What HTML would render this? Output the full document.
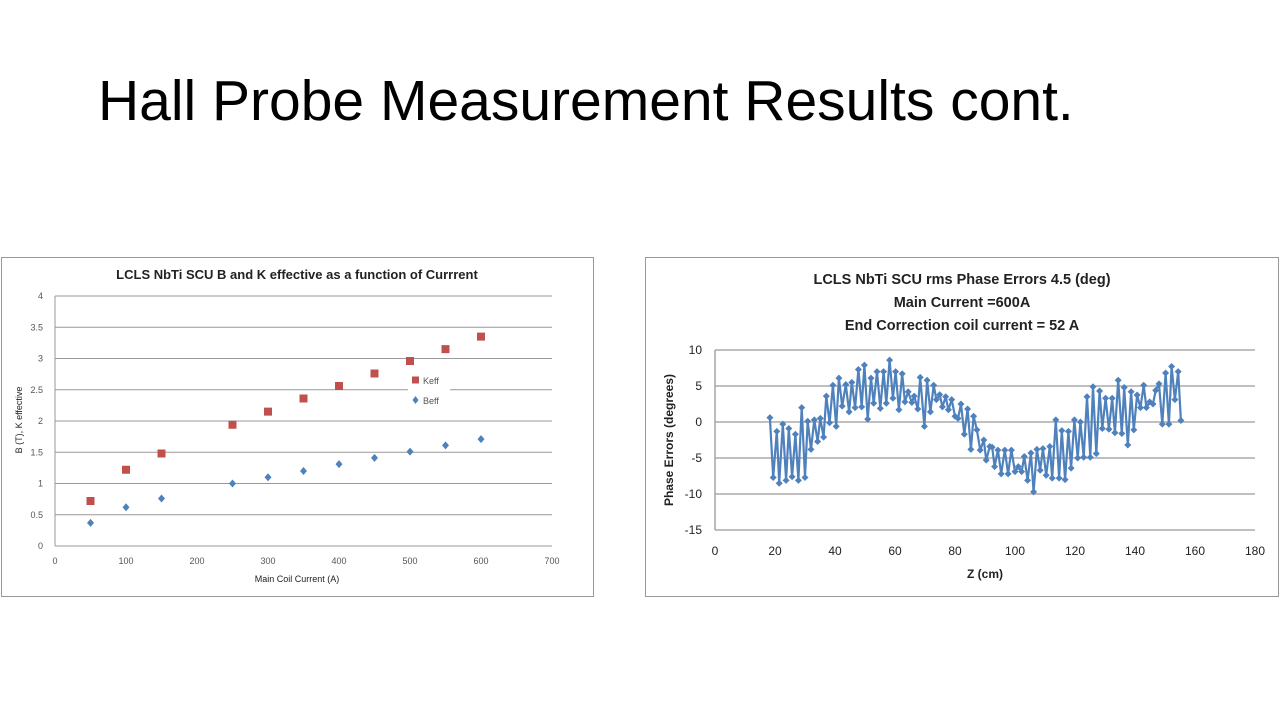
<!DOCTYPE html>
<html><head><meta charset="utf-8"><style>
body{margin:0;width:1280px;height:720px;background:#fff;overflow:hidden;font-family:"Liberation Sans",sans-serif;}
#title{position:absolute;left:98px;top:68px;font-size:57px;color:#000;white-space:nowrap;}
svg{position:absolute;left:0;top:0;}
</style></head><body>
<div id="title">Hall Probe Measurement Results cont.</div>
<svg id="svg" width="1280" height="720"></svg>
<script>
const currents=[50,100,150,250,300,350,400,450,500,550,600];
const keff=[0.72,1.22,1.48,1.94,2.15,2.36,2.56,2.76,2.96,3.15,3.35];
const beff=[0.37,0.62,0.76,1.0,1.1,1.2,1.31,1.41,1.51,1.61,1.71];
const leftXTicks=[0,100,200,300,400,500,600,700];
const leftYTicks=[0,0.5,1,1.5,2,2.5,3,3.5,4];
const zPos=[18.3,19.4,20.6,21.4,22.6,23.7,24.6,25.7,26.8,27.8,28.9,30,30.9,32,33.1,34.2,35.1,36.2,37.1,38.2,39.3,40.4,41.3,42.4,43.6,44.7,45.6,46.7,47.8,48.9,49.8,50.9,52,52.9,54,55.1,56.2,57.1,58.2,59.3,60.2,61.3,62.4,63.3,64.4,65.6,66.4,67.6,68.4,69.8,70.7,71.8,72.9,73.8,74.9,75.8,76.9,77.8,78.9,80,81,82,83.1,84.2,85.3,86.2,87.3,88.4,89.6,90.4,91.6,92.4,93.2,94.3,95.4,96.6,97.7,98.8,100,101.1,102.2,103.1,104.2,105.3,106.2,107.3,108.4,109.3,110.4,111.6,112.4,113.6,114.7,115.6,116.7,117.8,118.7,119.8,120.9,121.8,122.9,124,125.1,126,127.1,128.2,129.1,130.2,131.3,132.4,133.3,134.4,135.6,136.4,137.6,138.7,139.6,140.7,141.8,142.9,143.8,144.9,146,146.9,148,149.1,150.2,151.3,152.2,153.3,154.4,155.3];
const phaseErr=[0.6,-7.7,-1.3,-8.5,-0.3,-8.1,-0.9,-7.6,-1.7,-8.1,2.0,-7.7,0.1,-3.8,0.3,-2.7,0.5,-2.1,3.6,-0.1,5.1,-0.6,6.1,2.2,5.2,1.4,5.5,2.0,7.3,2.1,7.9,0.4,6.1,2.6,7.0,1.9,7.0,2.6,8.6,3.3,7.0,1.7,6.7,2.8,4.2,2.7,3.6,1.8,6.2,-0.6,5.8,1.4,5.1,3.1,3.8,2.1,3.5,1.7,3.1,0.8,0.5,2.5,-1.7,1.8,-3.8,0.8,-1.1,-3.9,-2.5,-5.3,-3.4,-3.5,-6.2,-3.9,-7.2,-3.9,-7.2,-3.9,-6.9,-6.2,-6.9,-4.8,-8.1,-4.3,-9.7,-3.8,-6.7,-3.7,-7.4,-3.4,-7.8,0.3,-7.8,-1.2,-8.0,-1.3,-6.4,0.3,-5.0,0.0,-4.9,3.5,-4.9,4.9,-4.4,4.3,-0.9,3.3,-1.0,3.3,-1.5,5.8,-1.6,4.8,-3.2,4.2,-1.1,3.75,2.0,5.1,2.0,2.8,2.5,4.4,5.3,-0.3,6.8,-0.3,7.7,3.1,7.0,0.2];
const rightXTicks=[0,20,40,60,80,100,120,140,160,180];
const rightYTicks=[-15,-10,-5,0,5,10];

const svg=document.getElementById('svg');const NS='http://www.w3.org/2000/svg';
function mk(t,a,p){const e=document.createElementNS(NS,t);for(const k in a)e.setAttribute(k,a[k]);(p||svg).appendChild(e);return e;}
function tx(s,a,p){const e=mk('text',a,p);e.textContent=s;return e;}

// LEFT CHART
const lg=mk('g',{});


const lb=mk('rect',{x:1.5,y:257.5,width:592,height:339,fill:'#fff',stroke:'#999'},lg);


const lx=v=>55+v*(552-55)/700, ly=v=>546-v*(546-296)/4;
const lt=tx('LCLS NbTi SCU B and K effective as a function of Currrent',{x:297,y:279,'font-size':13,'font-weight':'bold','text-anchor':'middle',fill:'#222'},lg);


leftYTicks.forEach(v=>{const l=mk('line',{x1:lx(0),x2:lx(700),y1:ly(v),y2:ly(v),stroke:'#999','stroke-width':1},lg);


const t=tx(String(v),{x:43,y:ly(v)+3,'font-size':9,'text-anchor':'end',fill:'#555'},lg);

});
mk('line',{x1:lx(0),x2:lx(0),y1:ly(0),y2:ly(4),stroke:'#999'},lg);
leftXTicks.forEach(v=>{const t=tx(String(v),{x:lx(v),y:564,'font-size':9,'text-anchor':'middle',fill:'#555'},lg);

});
const lxt=tx('Main Coil Current (A)',{x:297,y:582,'font-size':9,'text-anchor':'middle',fill:'#222'},lg);


const lyt=tx('B (T), K effective',{x:0,y:0,'font-size':9,'text-anchor':'middle',fill:'#222',transform:'translate(22,420) rotate(-90)'},lg);


currents.forEach((c,i)=>{const r=mk('rect',{x:lx(c)-4,y:ly(keff[i])-4,width:8,height:8,fill:'#c0504d'},lg);


const x=lx(c),y=ly(beff[i]);const d=mk('polygon',{points:`${x},${y-4} ${x+3.5},${y} ${x},${y+4} ${x-3.5},${y}`,fill:'#4f81bd'},lg);

});
const lgbg=mk('rect',{x:408,y:372,width:42,height:36,fill:'#fff'},lg);


mk('rect',{x:412,y:376.5,width:7,height:7,fill:'#c0504d'},lg);
const l1=tx('Keff',{x:423,y:384,'font-size':9,fill:'#555'},lg);


mk('polygon',{points:'415.5,396 418.5,400 415.5,404 412.5,400',fill:'#4f81bd'},lg);
const l2=tx('Beff',{x:423,y:404,'font-size':9,fill:'#555'},lg);



// RIGHT CHART
const rg=mk('g',{});


const rb=mk('rect',{x:645.5,y:257.5,width:633,height:339,fill:'#fff',stroke:'#999'},rg);


const rx=v=>715+v*3, ry=v=>422-v*7.2;
['LCLS NbTi SCU rms Phase Errors  4.5 (deg)','Main Current =600A','End Correction coil current = 52 A'].forEach((s,i)=>{const t=tx(s,{x:962,y:284+i*23,'font-size':14.5,'font-weight':'bold','text-anchor':'middle',fill:'#222','xml:space':'preserve'},rg);

});
rightYTicks.forEach(v=>{const l=mk('line',{x1:rx(0),x2:rx(180),y1:ry(v),y2:ry(v),stroke:'#999','stroke-width':1.3},rg);


const t=tx(String(v),{x:702,y:ry(v)+4,'font-size':12,'text-anchor':'end',fill:'#222'},rg);

});
mk('line',{x1:rx(0),x2:rx(0),y1:ry(-15),y2:ry(10),stroke:'#999','stroke-width':1.3},rg);
rightXTicks.forEach(v=>{const t=tx(String(v),{x:rx(v),y:555,'font-size':12,'text-anchor':'middle',fill:'#222'},rg);

});
const rxt=tx('Z (cm)',{x:985,y:578,'font-size':12,'font-weight':'bold','text-anchor':'middle',fill:'#222'},rg);


const ryt=tx('Phase Errors (degrees)',{x:0,y:0,'font-size':12,'font-weight':'bold','text-anchor':'middle',fill:'#222',transform:'translate(673,440) rotate(-90)'},rg);


const pts=zPos.map((z,i)=>rx(z)+','+ry(phaseErr[i])).join(' ');
const pl=mk('polyline',{points:pts,fill:'none',stroke:'#4f81bd','stroke-width':2.2,'stroke-linejoin':'round'},rg);


zPos.forEach((z,i)=>{const x=rx(z),y=ry(phaseErr[i]);const d=mk('polygon',{points:`${x},${y-3.5} ${x+3.5},${y} ${x},${y+3.5} ${x-3.5},${y}`,fill:'#4f81bd'},rg);

});
</script>
</body></html>
